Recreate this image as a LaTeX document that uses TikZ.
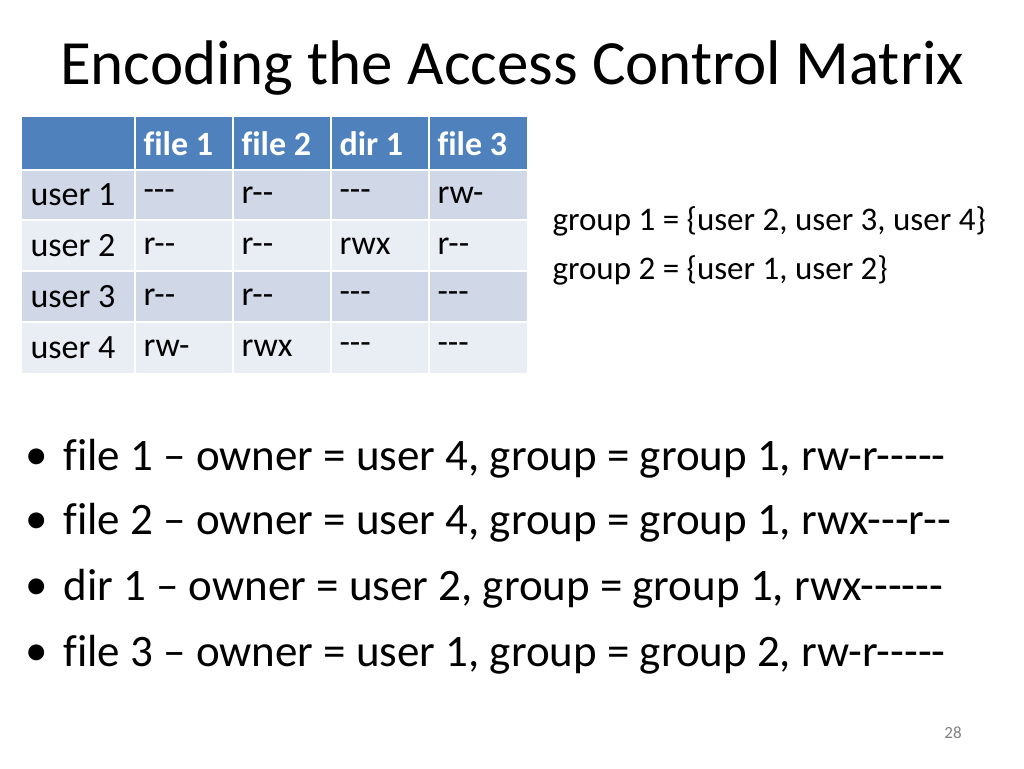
\documentclass[tikz,border=0pt]{standalone}
\usepackage{fontspec}
\setmainfont{Carlito}[Ligatures=NoCommon]
\definecolor{hdrblue}{RGB}{79,129,189}
\definecolor{rowdark}{RGB}{208,216,232}
\definecolor{rowlight}{RGB}{233,237,244}
\tikzset{
 cell/.style={anchor=west, font=\fontsize{34}{36}\selectfont},
 hdr/.style={cell, text=white, font=\fontsize{34}{36}\selectfont\bfseries},
 bullet/.style={anchor=west, font=\fontsize{45}{48}\selectfont},
}
\begin{document}
\begin{tikzpicture}[x=1pt,y=-1pt]
 \useasboundingbox (0,0) rectangle (1024,768);

 \node[anchor=center, font=\fontsize{63}{66}\selectfont] (title) at (512,68) {Encoding the Access Control Matrix};

 % table background
 \fill[hdrblue] (22,117) rectangle (527,170);
 \foreach \y/\c in {170/rowdark,220/rowlight,271/rowdark,322/rowlight}
  \fill[\c] (22,\y) rectangle (527,\y+51);
 \foreach \x in {135,233,331,429}
  \draw[white, line width=2] (\x,117) -- (\x,373);
 \foreach \y in {170,220,271,322}
  \draw[white, line width=2] (22,\y) -- (527,\y);

 \node[hdr] (h1) at (140,144) {file 1};
 \node[hdr] (h2) at (238,144) {file 2};
 \node[hdr] (h3) at (336,144) {dir 1};
 \node[hdr] (h4) at (434,144) {file 3};

 \foreach \y/\u/\a/\b/\c/\d [count=\i] in {195/user 1/-{}-{}-/r-{}-/-{}-{}-/rw-, 246/user 2/r-{}-/r-{}-/rwx/r-{}-, 297/user 3/r-{}-/r-{}-/-{}-{}-/-{}-{}-, 348/user 4/rw-/rwx/-{}-{}-/-{}-{}-} {
  \node[cell] (u\i) at (27,\y) {\u};
  \node[cell] (a\i) at (140,\y) {\a};
  \node[cell] (b\i) at (238,\y) {\b};
  \node[cell] (c\i) at (336,\y) {\c};
  \node[cell] (d\i) at (434,\y) {\d};
 }

 \node[anchor=west, font=\fontsize{33}{35}\selectfont] (g1) at (549,221) {group 1 = \{user 2, user 3, user 4\}};
 \node[anchor=west, font=\fontsize{33}{35}\selectfont] (g2) at (549,270) {group 2 = \{user 1, user 2\}};

 \foreach \y/\t [count=\i] in {459/{file 1 – owner = user 4, group = group 1, rw-r-{}-{}-{}-{}-},
  523/{file 2 – owner = user 4, group = group 1, rwx-{}-{}-r-{}-},
  589/{dir 1 – owner = user 2, group = group 1, rwx-{}-{}-{}-{}-{}-},
  655/{file 3 – owner = user 1, group = group 2, rw-r-{}-{}-{}-{}-}} {
  \node[bullet] (dot\i) at (22,\y) {\textbullet};
  \node[bullet] (b\i) at (60,\y) {\t};
 }

 \node[font=\fontsize{17}{19}\selectfont, text=gray] (page) at (953,733) {28};
\end{tikzpicture}
\end{document}
